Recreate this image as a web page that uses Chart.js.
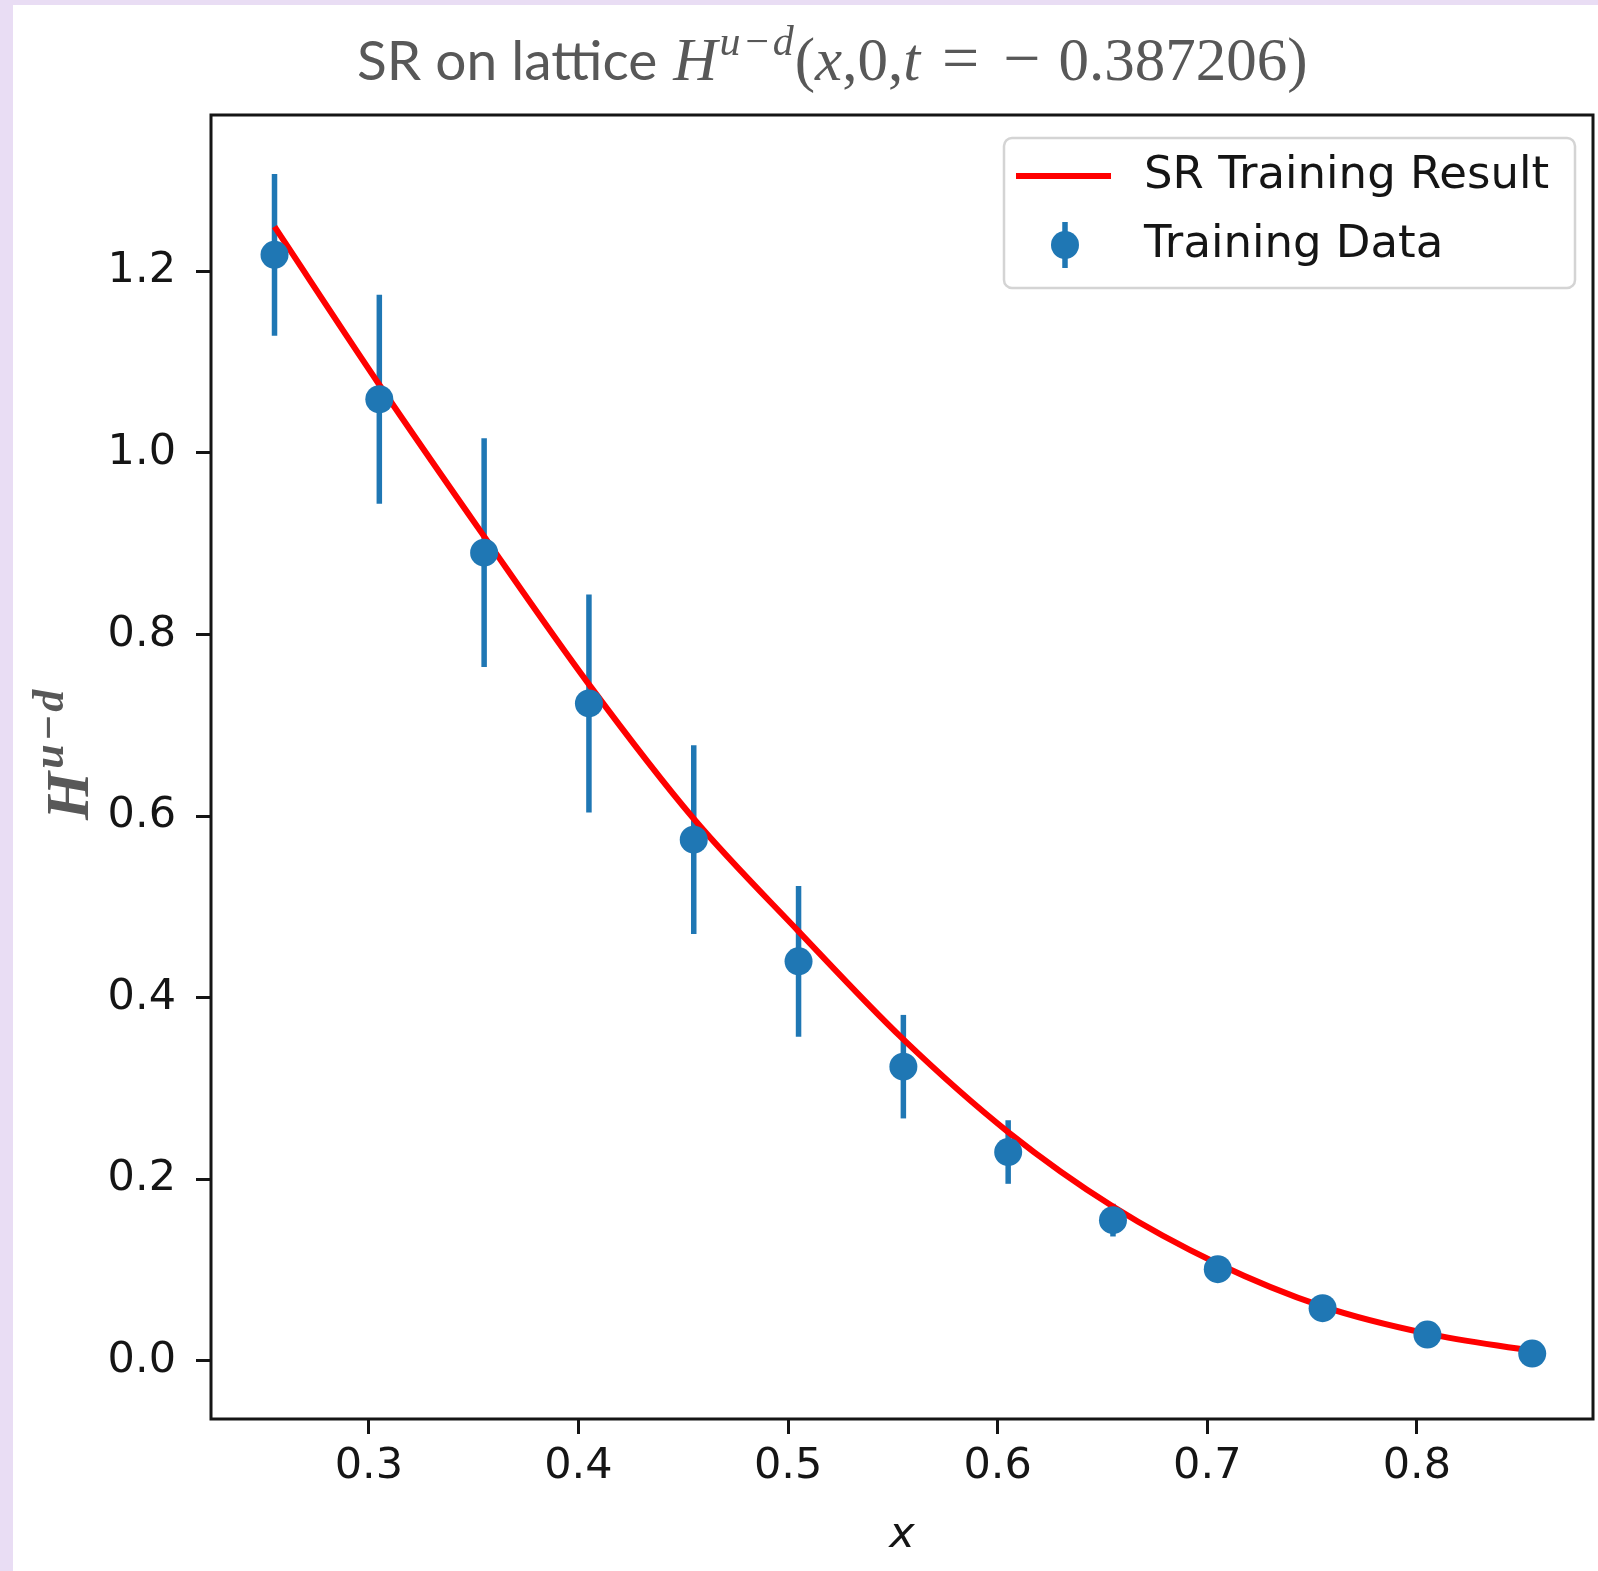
<!DOCTYPE html>
<html>
<head>
<meta charset="utf-8">
<title>SR on lattice</title>
<script src="https://cdn.jsdelivr.net/npm/chart.js@4.4.0/dist/chart.umd.min.js"></script>
<style>
	html, body { margin: 0; padding: 0; background: #e9ddf4; }
	canvas { display: block; }
</style>
</head>
<body>
<canvas id="sr-chart" width="1598" height="1571"></canvas>
<script>
"use strict";

// lattice points and the symbolic regression curve evaluated at them
const xValues = [0.255, 0.305, 0.355, 0.405, 0.455, 0.505, 0.555, 0.605, 0.655, 0.705, 0.755, 0.805, 0.855];
const trainingData = [1.218, 1.059, 0.890, 0.724, 0.574, 0.440, 0.324, 0.230, 0.155, 0.101, 0.058, 0.029, 0.008];
const trainingErr = [0.089, 0.115, 0.126, 0.120, 0.104, 0.083, 0.057, 0.035, 0.018, 0.012, 0.007, 0.004, 0.002];
const srResult = [1.249, 1.075, 0.908, 0.745, 0.597, 0.473, 0.354, 0.252, 0.170, 0.107, 0.060, 0.030, 0.011];

const xTicks = [0.3, 0.4, 0.5, 0.6, 0.7, 0.8];
const yTicks = [0.0, 0.2, 0.4, 0.6, 0.8, 1.0, 1.2];

const BLUE = '#1f77b4';
const RED = '#ff0000';
const INK = '#151515';
const MATH_GREY = '#585858';
const TICK_FONT = { family: 'DejaVu Sans', size: 43, lineHeight: 1.2 };

const pageBackground = {
	id: 'pageBackground',
	beforeDraw(chart) {
		const ctx = chart.ctx;
		ctx.save();
		ctx.fillStyle = '#e9ddf4';
		ctx.fillRect(0, 0, chart.width, chart.height);
		ctx.fillStyle = '#ffffff';
		ctx.fillRect(13, 5, chart.width - 13, chart.height - 5);
		ctx.restore();
	}
};

// vertical error bars for the training data
const errorBars = {
	id: 'errorBars',
	beforeDatasetsDraw(chart) {
		const { ctx, chartArea, scales: { x, y } } = chart;
		ctx.save();
		ctx.beginPath();
		ctx.rect(chartArea.left, chartArea.top, chartArea.right - chartArea.left, chartArea.bottom - chartArea.top);
		ctx.clip();
		ctx.strokeStyle = BLUE;
		ctx.lineWidth = 5.5;
		ctx.lineCap = 'butt';
		for (let i = 0; i < xValues.length; i++) {
			const px = x.getPixelForValue(xValues[i]);
			ctx.beginPath();
			ctx.moveTo(px, y.getPixelForValue(trainingData[i] - trainingErr[i]));
			ctx.lineTo(px, y.getPixelForValue(trainingData[i] + trainingErr[i]));
			ctx.stroke();
		}
		ctx.restore();
	}
};

const axesFrame = {
	id: 'axesFrame',
	afterDatasetsDraw(chart) {
		const { ctx, chartArea: a } = chart;
		ctx.save();
		ctx.strokeStyle = INK;
		ctx.lineWidth = 3;
		ctx.strokeRect(a.left, a.top, a.right - a.left, a.bottom - a.top);
		ctx.restore();
	}
};

function drawRuns(ctx, runs, x, y) {
	for (const run of runs) {
		ctx.font = run.font;
		ctx.fillText(run.text, x, y + (run.dy || 0));
		x += ctx.measureText(run.text).width + (run.gap || 0);
	}
}

const titleAndLabels = {
	id: 'titleAndLabels',
	afterDraw(chart) {
		const ctx = chart.ctx;
		const serif = '"Liberation Serif"';
		const math = `61px ${serif}`;
		const mathIt = `italic 61px ${serif}`;
		ctx.save();
		ctx.fillStyle = MATH_GREY;
		ctx.textBaseline = 'alphabetic';
		ctx.textAlign = 'left';
		drawRuns(ctx, [
			{ text: 'SR on lattice ', font: '55px Lato', gap: 2 },
			{ text: 'H', font: mathIt, gap: 2 },
			{ text: 'u', font: `italic 42px ${serif}`, dy: -25, gap: 2 },
			{ text: '\u2212', font: `italic 42px ${serif}`, dy: -25, gap: 2 },
			{ text: 'd', font: `italic 42px ${serif}`, dy: -25, gap: 1 },
			{ text: '(', font: math },
			{ text: 'x', font: mathIt },
			{ text: ',0,', font: math },
			{ text: 't', font: mathIt, gap: 22 },
			{ text: '=', font: `66px ${serif}`, gap: 24 },
			{ text: '\u2212', font: `66px ${serif}`, gap: 18 },
			{ text: '0.387206)', font: math }
		], 357, 80);

		// y-axis label H^{u-d}
		ctx.translate(88, 820);
		ctx.rotate(-Math.PI / 2);
		drawRuns(ctx, [
			{ text: 'H', font: `italic bold 62px ${serif}`, gap: 3 },
			{ text: 'u', font: `italic bold 44px ${serif}`, dy: -25, gap: 3 },
			{ text: '\u2212', font: `italic bold 44px ${serif}`, dy: -25, gap: 3 },
			{ text: 'd', font: `italic bold 44px ${serif}`, dy: -25 }
		], 0, 0);
		ctx.restore();
	}
};

const boxLegend = {
	id: 'boxLegend',
	afterDraw(chart) {
		const { ctx, chartArea: a } = chart;
		const left = a.right - 589;
		const top = a.top + 23;
		ctx.save();
		ctx.beginPath();
		ctx.roundRect(left, top, 571, 150, 8);
		ctx.fillStyle = 'rgba(255,255,255,0.8)';
		ctx.fill();
		ctx.strokeStyle = '#d4d4d4';
		ctx.lineWidth = 2.5;
		ctx.stroke();

		const row1 = top + 38;
		const row2 = top + 107;
		ctx.strokeStyle = RED;
		ctx.lineWidth = 6;
		ctx.beginPath();
		ctx.moveTo(left + 12, row1);
		ctx.lineTo(left + 107, row1);
		ctx.stroke();

		ctx.strokeStyle = BLUE;
		ctx.lineWidth = 5.5;
		ctx.beginPath();
		ctx.moveTo(left + 61, row2 - 23);
		ctx.lineTo(left + 61, row2 + 23);
		ctx.stroke();
		ctx.fillStyle = BLUE;
		ctx.beginPath();
		ctx.arc(left + 61, row2, 14, 0, Math.PI * 2);
		ctx.fill();

		ctx.fillStyle = INK;
		ctx.font = '45px "DejaVu Sans"';
		ctx.textBaseline = 'middle';
		ctx.fillText('SR Training Result', left + 140, row1);
		ctx.fillText('Training Data', left + 140, row2);
		ctx.restore();
	}
};

const ctx = document.querySelector('#sr-chart').getContext('2d');
new Chart(ctx, {
	type: 'scatter',
	data: {
		datasets: [{
			type: 'line',
			label: 'SR Training Result',
			data: xValues.map((x, i) => ({ x, y: srResult[i] })),
			borderColor: RED,
			borderWidth: 6,
			pointRadius: 0,
			cubicInterpolationMode: 'monotone',
			fill: false,
			order: 2
		}, {
			type: 'scatter',
			label: 'Training Data',
			data: xValues.map((x, i) => ({ x, y: trainingData[i] })),
			backgroundColor: BLUE,
			borderWidth: 0,
			pointRadius: 14,
			order: 1
		}]
	},
	options: {
		responsive: false,
		animation: false,
		devicePixelRatio: 1,
		layout: { autoPadding: false, padding: { top: 115, right: 5, left: 0, bottom: 0 } },
		plugins: {
			legend: { display: false },
			title: { display: false },
			tooltip: { enabled: false }
		},
		scales: {
			x: {
				type: 'linear',
				position: 'bottom',
				min: 0.2247,
				max: 0.8840,
				afterBuildTicks: scale => { scale.ticks = xTicks.map(v => ({ value: v })); },
				afterFit: scale => { scale.height = 152; },
				ticks: {
					callback: v => v.toFixed(1),
					font: TICK_FONT,
					color: INK,
					padding: 7,
					maxRotation: 0,
					autoSkip: false
				},
				grid: { drawOnChartArea: false, drawTicks: true, tickLength: 15, tickWidth: 3, tickColor: INK },
				border: { display: false },
				title: {
					display: true,
					text: 'x',
					font: { family: 'DejaVu Sans', style: 'italic', size: 43, lineHeight: 1.2 },
					color: INK,
					padding: { top: 0, bottom: 9 }
				}
			},
			y: {
				type: 'linear',
				min: -0.064,
				max: 1.372,
				afterBuildTicks: scale => { scale.ticks = yTicks.map(v => ({ value: v })); },
				afterFit: scale => { scale.width = 211; },
				ticks: {
					callback: v => v.toFixed(1),
					font: TICK_FONT,
					color: INK,
					padding: 20,
					autoSkip: false
				},
				grid: { drawOnChartArea: false, drawTicks: true, tickLength: 15, tickWidth: 3, tickColor: INK },
				border: { display: false }
			}
		}
	},
	plugins: [pageBackground, errorBars, axesFrame, titleAndLabels, boxLegend]
});
</script>
</body>
</html>
